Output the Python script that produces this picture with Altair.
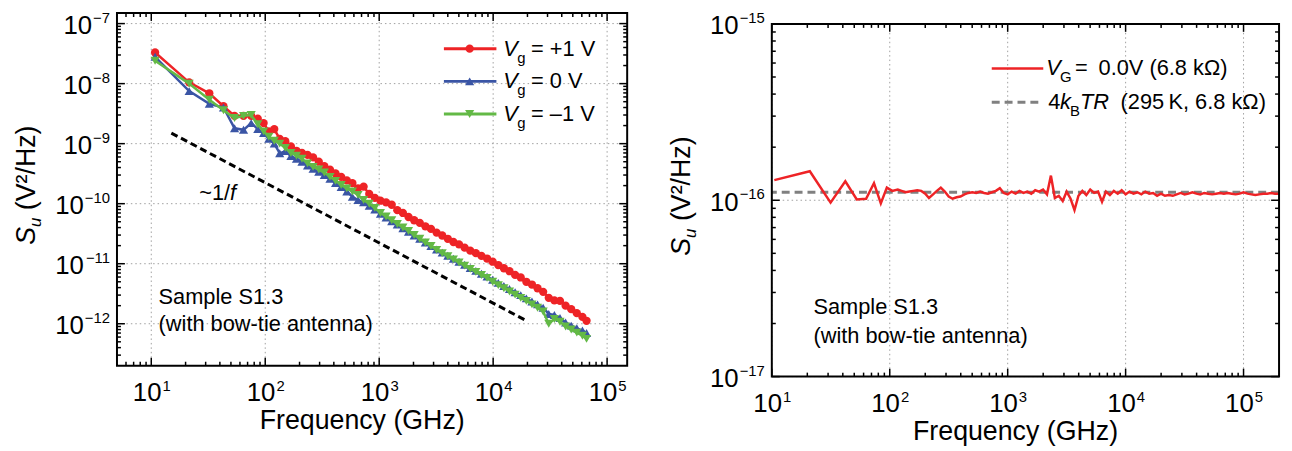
import altair as alt
import pandas as pd

FONT = "Liberation Sans"
RED = "#ee2326"
BLUE = "#3a55a5"
GREEN = "#63b946"
GRAY = "#808080"
GRID = "#a0a0a0"

# ---------------- data: left panel ----------------
freq_left = [10.8, 21.5, 32.3, 43, 53.8, 64.5, 75.3, 86, 96.8, 107.5,
             120, 134, 150, 168, 188, 210, 235, 263, 295, 330,
             370, 414, 464, 520, 582, 652, 730, 818, 916, 1026,
             1150, 1288, 1442, 1615, 1809, 2026, 2270, 2542, 2847, 3189,
             3572, 4000, 4480, 5018, 5620, 6295, 7050, 7896, 8844, 9905,
             11094, 12425, 13916, 15586, 17457, 19552, 21898, 24526, 27469, 30766,
             34458, 38593, 43224, 48411, 54220, 60726, 66000]
su_vg_p1 = [3.3e-8, 1.05e-8, 6.9e-9, 4.2e-9, 2.9e-9, 2.9e-9, 2.9e-9, 2.6e-9, 2.2e-9, 1.6e-9,
            1.75e-9, 1.2e-9, 1.1e-9, 9.0e-10, 7.6e-10, 7.0e-10, 6.5e-10, 5.9e-10, 5.0e-10, 4.2e-10,
            3.7e-10, 3.2e-10, 2.8e-10, 2.45e-10, 2.2e-10, 1.8e-10, 1.92e-10, 1.45e-10, 1.25e-10, 1.12e-10,
            1.05e-10, 9.6e-11, 7.8e-11, 7.0e-11, 6.0e-11, 5.3e-11, 4.8e-11, 4.2e-11, 3.8e-11, 3.3e-11,
            2.95e-11, 2.6e-11, 2.3e-11, 2.1e-11, 1.85e-11, 1.65e-11, 1.5e-11, 1.35e-11, 1.22e-11, 1.08e-11,
            9.5e-12, 8.4e-12, 7.5e-12, 6.5e-12, 5.9e-12, 5.0e-12, 4.5e-12, 3.9e-12, 3.4e-12, 2.7e-12,
            2.45e-12, 2.4e-12, 2.0e-12, 1.75e-12, 1.5e-12, 1.3e-12, 1.12e-12]
su_vg_0 = [2.8e-8, 7.5e-9, 4.6e-9, 4.0e-9, 1.8e-9, 1.7e-9, 2.2e-9, 1.75e-9, 1.5e-9, 1.2e-9,
           1.0e-9, 6.9e-10, 7.5e-10, 6.2e-10, 5.6e-10, 5.0e-10, 4.3e-10, 3.8e-10, 3.4e-10, 3.0e-10,
           2.6e-10, 2.2e-10, 1.9e-10, 1.6e-10, 1.3e-10, 1.15e-10, 1.05e-10, 9.2e-11, 8.0e-11, 6.8e-11,
           5.9e-11, 5.1e-11, 4.5e-11, 3.9e-11, 3.4e-11, 2.95e-11, 2.6e-11, 2.25e-11, 1.97e-11, 1.72e-11,
           1.53e-11, 1.36e-11, 1.21e-11, 1.08e-11, 9.6e-12, 8.5e-12, 7.6e-12, 6.8e-12, 6.1e-12, 5.4e-12,
           4.8e-12, 4.25e-12, 3.8e-12, 3.35e-12, 3.0e-12, 2.65e-12, 2.35e-12, 2.1e-12, 1.85e-12, 1.45e-12,
           1.4e-12, 1.25e-12, 1.05e-12, 9.3e-13, 8.4e-13, 7.7e-13, 7.0e-13]
su_vg_m1 = [2.4e-8, 1.0e-8, 5.4e-9, 3.6e-9, 2.67e-9, 2.9e-9, 3.0e-9, 2.1e-9, 1.6e-9, 1.3e-9,
            1.12e-9, 1.0e-9, 8.5e-10, 7.0e-10, 6.3e-10, 5.6e-10, 4.7e-10, 4.1e-10, 3.7e-10, 3.3e-10,
            2.8e-10, 2.4e-10, 2.05e-10, 1.8e-10, 1.6e-10, 1.4e-10, 1.15e-10, 1.0e-10, 8.5e-11, 7.0e-11,
            6.1e-11, 5.3e-11, 4.6e-11, 4.0e-11, 3.5e-11, 3.0e-11, 2.6e-11, 2.25e-11, 1.97e-11, 1.7e-11,
            1.5e-11, 1.33e-11, 1.18e-11, 1.05e-11, 9.3e-12, 8.2e-12, 7.3e-12, 6.5e-12, 5.8e-12, 5.0e-12,
            4.4e-12, 3.9e-12, 3.45e-12, 3.05e-12, 2.7e-12, 2.4e-12, 2.1e-12, 1.85e-12, 1.6e-12, 1.0e-12,
            1.2e-12, 1.08e-12, 9.0e-13, 8.0e-13, 7.1e-13, 6.3e-13, 5.6e-13]
guide_f = [15, 20000]
guide_su = [1.5e-9, 1.1e-12]

# ---------------- data: right panel ----------------
freq_right = [10.5, 21, 31.5, 42, 52.5, 63, 73.5, 84, 94.5, 105,
              117, 126, 136, 147, 158, 171, 185, 200, 215, 233, 251, 271, 293, 316,
              341, 369, 398, 430, 464, 501, 541, 584, 631, 681, 736, 794, 858, 926,
              1000, 1080, 1166, 1259, 1359, 1468, 1585, 1711, 1848, 1995, 2154, 2326,
              2512, 2712, 2929, 3162, 3415, 3687, 3981, 4299, 4642, 5012, 5412, 5843,
              6310, 6813, 7356, 7943, 8577, 9261,
              10000, 10798, 11659, 12589, 13594, 14678, 15849, 17113, 18478, 19953,
              21544, 23263, 25119, 27123, 29286, 31623, 34145, 36869, 39811, 42987,
              46416, 50119, 54117, 58434, 63096, 68129, 73564, 79433, 85770, 92612,
              100000, 107980, 116590, 125890, 135940, 146780, 158490, 171130, 184780, 199530]
# in units of 1e-16 V^2/Hz
su_right_e16 = [1.30, 1.46, 0.97, 1.28, 1.01, 1.02, 1.25, 0.96, 1.18, 1.13,
                1.15, 1.13, 1.11, 1.12, 1.13, 1.14, 1.13, 1.09, 1.03, 1.08, 1.13, 1.18, 1.12, 1.05,
                1.02, 1.04, 1.05, 1.08, 1.10, 1.11, 1.10, 1.12, 1.10, 1.09, 1.11, 1.13, 1.17, 1.10,
                1.08, 1.12, 1.09, 1.13, 1.10, 1.12, 1.09, 1.14, 1.12, 1.15, 1.08, 1.38,
                1.03, 1.06, 0.99, 1.12, 1.02, 0.88, 1.06, 1.13, 1.07, 1.15, 1.10, 1.12,
                0.98, 1.12, 1.07, 1.13, 1.09, 1.14,
                1.08, 1.12, 1.09, 1.11, 1.08, 1.12, 1.09, 1.10, 1.06, 1.09,
                1.06, 1.07, 1.06, 1.08, 1.10, 1.08, 1.09, 1.11, 1.09, 1.08,
                1.10, 1.09, 1.08, 1.09, 1.10, 1.09, 1.10, 1.09, 1.08, 1.09,
                1.11, 1.09, 1.08, 1.07, 1.08, 1.09, 1.09, 1.10, 1.09, 1.09]
johnson_level = 1.11e-16

# ---------------- ticks / labels ----------------
x_major = [10, 100, 1000, 10000, 100000]
x_exps = ["1", "2", "3", "4", "5"]
left_y_major = [1e-7, 1e-8, 1e-9, 1e-10, 1e-11, 1e-12]
left_y_exps = ["\u22127", "\u22128", "\u22129", "\u221210", "\u221211", "\u221212"]
right_y_major = [1e-15, 1e-16, 1e-17]
right_y_exps = ["\u221215", "\u221216", "\u221217"]

LX_DOM = [5, 1.5e5]
LY_DOM = [2e-13, 1.5e-7]
RX_DOM = [10, 2e5]
RY_DOM = [1e-17, 1e-15]

W_L, H_L = 515, 356
W_R, H_R = 512, 356
OY_R = 11          # right frame sits lower than the left one

BASE_FS = 26
EXP_FS = 15
TITLE_FS = 27
ADV = {"0": 0.556, "1": 0.556, "2": 0.556, "3": 0.556, "4": 0.556, "5": 0.556,
       "6": 0.556, "7": 0.556, "8": 0.556, "9": 0.556, "\u2212": 0.584}


def text_w(s, fs):
    return sum(ADV[c] for c in s) * fs


def minor_ticks(lo, hi):
    out = []
    for e in range(-20, 8):
        for m in range(2, 10):
            v = m * 10.0 ** e
            if lo * 1.0001 < v < hi * 0.9999:
                out.append(v)
    return out


def text_mark(txt, x, y, size=22, style="normal", align="left", baseline="middle", angle=0):
    return alt.Chart(pd.DataFrame({"t": [txt]})).mark_text(
        align=align, baseline=baseline, fontSize=size, fontStyle=style, angle=angle,
        font=FONT, color="black").encode(x=alt.value(x), y=alt.value(y), text="t:N")


def one_row():
    return alt.Chart(pd.DataFrame({"k": [0]}))


def grid_layers(xs, ys, H, oy, xmaj, ymaj):
    gx = alt.Chart(pd.DataFrame({"f": xmaj})).mark_rule(
        color=GRID, strokeDash=[1.5, 3], strokeWidth=1).encode(
        x=alt.X("f:Q", scale=xs, axis=None), y=alt.value(oy), y2=alt.value(oy + H))
    gy = alt.Chart(pd.DataFrame({"su": ymaj})).mark_rule(
        color=GRID, strokeDash=[1.5, 3], strokeWidth=1).encode(
        y=alt.Y("su:Q", scale=ys, axis=None))
    return [gx, gy]


def tick_layers(xs, ys, W, H, oy, xmaj, xmin, ymaj, ymin):
    out = []
    for vals, L in ((xmaj, 8), (xmin, 4)):
        base = alt.Chart(pd.DataFrame({"f": vals}))
        ex = alt.X("f:Q", scale=xs, axis=None)
        out.append(base.mark_rule(color="black", strokeWidth=1.5).encode(
            x=ex, y=alt.value(oy + H), y2=alt.value(oy + H - L)))
        out.append(base.mark_rule(color="black", strokeWidth=1.5).encode(
            x=ex, y=alt.value(oy), y2=alt.value(oy + L)))
    for vals, L in ((ymaj, 8), (ymin, 4)):
        base = alt.Chart(pd.DataFrame({"su": vals}))
        ey = alt.Y("su:Q", scale=ys, axis=None)
        out.append(base.mark_rule(color="black", strokeWidth=1.5).encode(
            y=ey, x=alt.value(0), x2=alt.value(L)))
        out.append(base.mark_rule(color="black", strokeWidth=1.5).encode(
            y=ey, x=alt.value(W), x2=alt.value(W - L)))
    return out


def label_layers(xs, ys, W, H, oy, xmaj, xexp, ymaj, yexp):
    out = []
    wb = text_w("10", BASE_FS)
    we = text_w("1", EXP_FS)
    xdf = pd.DataFrame({"f": xmaj, "b": ["10"] * len(xmaj), "e": xexp})
    out.append(alt.Chart(xdf).mark_text(
        align="right", baseline="alphabetic", fontSize=BASE_FS, font=FONT, color="black",
        dx=(wb - we) / 2).encode(x=alt.X("f:Q", scale=xs, axis=None), y=alt.value(oy + H + 36),
                                 text="b:N"))
    out.append(alt.Chart(xdf).mark_text(
        align="left", baseline="alphabetic", fontSize=EXP_FS, font=FONT, color="black",
        dx=(wb - we) / 2 + 1).encode(x=alt.X("f:Q", scale=xs, axis=None), y=alt.value(oy + H + 26),
                                     text="e:N"))
    for v, e in zip(ymaj, yexp):
        ydf = pd.DataFrame({"su": [v], "b": ["10"], "e": [e]})
        out.append(alt.Chart(ydf).mark_text(
            align="right", baseline="alphabetic", fontSize=EXP_FS, font=FONT, color="black",
            dy=-1).encode(x=alt.value(-7), y=alt.Y("su:Q", scale=ys, axis=None), text="e:N"))
        out.append(alt.Chart(ydf).mark_text(
            align="right", baseline="alphabetic", fontSize=BASE_FS, font=FONT, color="black",
            dy=10.5).encode(x=alt.value(-7 - text_w(e, EXP_FS) - 1),
                            y=alt.Y("su:Q", scale=ys, axis=None), text="b:N"))
    # axis titles
    out.append(text_mark("Frequency (GHz)", W / 2 - 10, oy + H + 64, TITLE_FS, align="center",
                         baseline="alphabetic"))
    out.append(text_mark("S", -83, oy + 234, TITLE_FS, "italic", baseline="alphabetic", angle=270))
    out.append(text_mark("u", -77, oy + 216, 17, "italic", baseline="alphabetic", angle=270))
    out.append(text_mark("(V\u00b2/Hz)", -83, oy + 199, TITLE_FS, baseline="alphabetic", angle=270))
    return out


def frame_layer(W, H, oy):
    return one_row().mark_rect(fillOpacity=0, stroke="black", strokeWidth=2).encode(
        x=alt.value(0), x2=alt.value(W), y=alt.value(oy), y2=alt.value(oy + H))


# ---------------- left panel ----------------
xs_l = alt.Scale(type="log", domain=LX_DOM, nice=False)
ys_l = alt.Scale(type="log", domain=LY_DOM, nice=False)

left_layers = grid_layers(xs_l, ys_l, H_L, 0, x_major, left_y_major)
guide_df = pd.DataFrame({"f": guide_f, "su": guide_su})
left_layers.append(alt.Chart(guide_df).mark_line(color="black", strokeDash=[7, 4], strokeWidth=3).encode(
    x=alt.X("f:Q", scale=xs_l, axis=None), y=alt.Y("su:Q", scale=ys_l, axis=None)))
for vals, color, shape, size in ((su_vg_p1, RED, "circle", 70),
                                 (su_vg_0, BLUE, "triangle-up", 85),
                                 (su_vg_m1, GREEN, "triangle-down", 85)):
    df = pd.DataFrame({"f": freq_left, "su": vals})
    base = alt.Chart(df).encode(x=alt.X("f:Q", scale=xs_l, axis=None),
                                y=alt.Y("su:Q", scale=ys_l, axis=None))
    left_layers.append(base.mark_line(color=color, strokeWidth=2.5))
    left_layers.append(base.mark_point(shape=shape, filled=True, size=size, color=color, opacity=1))

left_layers += tick_layers(xs_l, ys_l, W_L, H_L, 0, x_major, minor_ticks(*LX_DOM),
                           left_y_major, minor_ticks(*LY_DOM))
left_layers += label_layers(xs_l, ys_l, W_L, H_L, 0, x_major, x_exps, left_y_major, left_y_exps)

legend_rows = [("= +1 V", RED, "circle", 70, 36),
               ("= 0 V", BLUE, "triangle-up", 85, 69),
               ("= \u20131 V", GREEN, "triangle-down", 85, 102)]
for label, color, shape, size, ry in legend_rows:
    left_layers.append(one_row().mark_rule(color=color, strokeWidth=3).encode(
        x=alt.value(330), x2=alt.value(383), y=alt.value(ry)))
    left_layers.append(one_row().mark_point(shape=shape, filled=True, size=size, color=color,
                                            opacity=1).encode(x=alt.value(356), y=alt.value(ry)))
    left_layers.append(text_mark("V", 390, ry, 22, "italic"))
    left_layers.append(text_mark("g", 404, ry + 9, 15))
    left_layers.append(text_mark(label, 418, ry, 22))

left_layers.append(text_mark("~1/", 83, 182, 22))
left_layers.append(text_mark("f", 114, 182, 22, "italic"))
left_layers.append(text_mark("Sample S1.3", 42, 287, 22))
left_layers.append(text_mark("(with bow-tie antenna)", 42, 314, 22))
left_layers.append(frame_layer(W_L, H_L, 0))

left = alt.layer(*left_layers).properties(width=W_L, height=H_L)

# ---------------- right panel ----------------
oy = OY_R
xs_r = alt.Scale(type="log", domain=RX_DOM, nice=False)
ys_r = alt.Scale(type="log", domain=RY_DOM, nice=False, range=[oy + H_R, oy])

right_df = pd.DataFrame({"f": freq_right, "su": [v * 1e-16 for v in su_right_e16]})
ref_df = pd.DataFrame({"su": [johnson_level]})

right_layers = grid_layers(xs_r, ys_r, H_R, oy, x_major, right_y_major)
right_layers.append(alt.Chart(ref_df).mark_rule(color=GRAY, strokeDash=[8, 5], strokeWidth=3).encode(
    y=alt.Y("su:Q", scale=ys_r, axis=None)))
right_layers.append(alt.Chart(right_df).mark_line(color=RED, strokeWidth=2.5).encode(
    x=alt.X("f:Q", scale=xs_r, axis=None), y=alt.Y("su:Q", scale=ys_r, axis=None)))
right_layers += tick_layers(xs_r, ys_r, W_R, H_R, oy, x_major, minor_ticks(*RX_DOM),
                            right_y_major, minor_ticks(*RY_DOM))
right_layers += label_layers(xs_r, ys_r, W_R, H_R, oy, x_major, x_exps, right_y_major, right_y_exps)

right_layers.append(one_row().mark_rule(color=RED, strokeWidth=2.5).encode(
    x=alt.value(222), x2=alt.value(274), y=alt.value(oy + 45)))
right_layers.append(one_row().mark_rule(color=GRAY, strokeWidth=3, strokeDash=[8, 5]).encode(
    x=alt.value(222), x2=alt.value(270), y=alt.value(oy + 79)))
right_layers.append(text_mark("V", 277, oy + 45, 22, "italic"))
right_layers.append(text_mark("G", 291, oy + 54, 15))
right_layers.append(text_mark("=\u20020.0V (6.8 k\u03a9)", 306, oy + 45, 22))
right_layers.append(text_mark("4", 279, oy + 79, 22))
right_layers.append(text_mark("k", 291, oy + 79, 22, "italic"))
right_layers.append(text_mark("B", 301, oy + 88, 15))
right_layers.append(text_mark("TR", 311, oy + 79, 22, "italic"))
right_layers.append(text_mark("(295\u2009K, 6.8 k\u03a9)", 352, oy + 79, 22))
right_layers.append(text_mark("Sample S1.3", 42, oy + 286, 22))
right_layers.append(text_mark("(with bow-tie antenna)", 42, oy + 315, 22))
right_layers.append(frame_layer(W_R, H_R, oy))

right = alt.layer(*right_layers).properties(width=W_R, height=H_R + oy)

chart = alt.hconcat(left, right, spacing=40).properties(
    padding={"left": 5, "top": 0, "right": 0, "bottom": 0}
).configure_view(strokeWidth=0)

chart.save("out.html", embed_options={"renderer": "svg", "actions": False})
